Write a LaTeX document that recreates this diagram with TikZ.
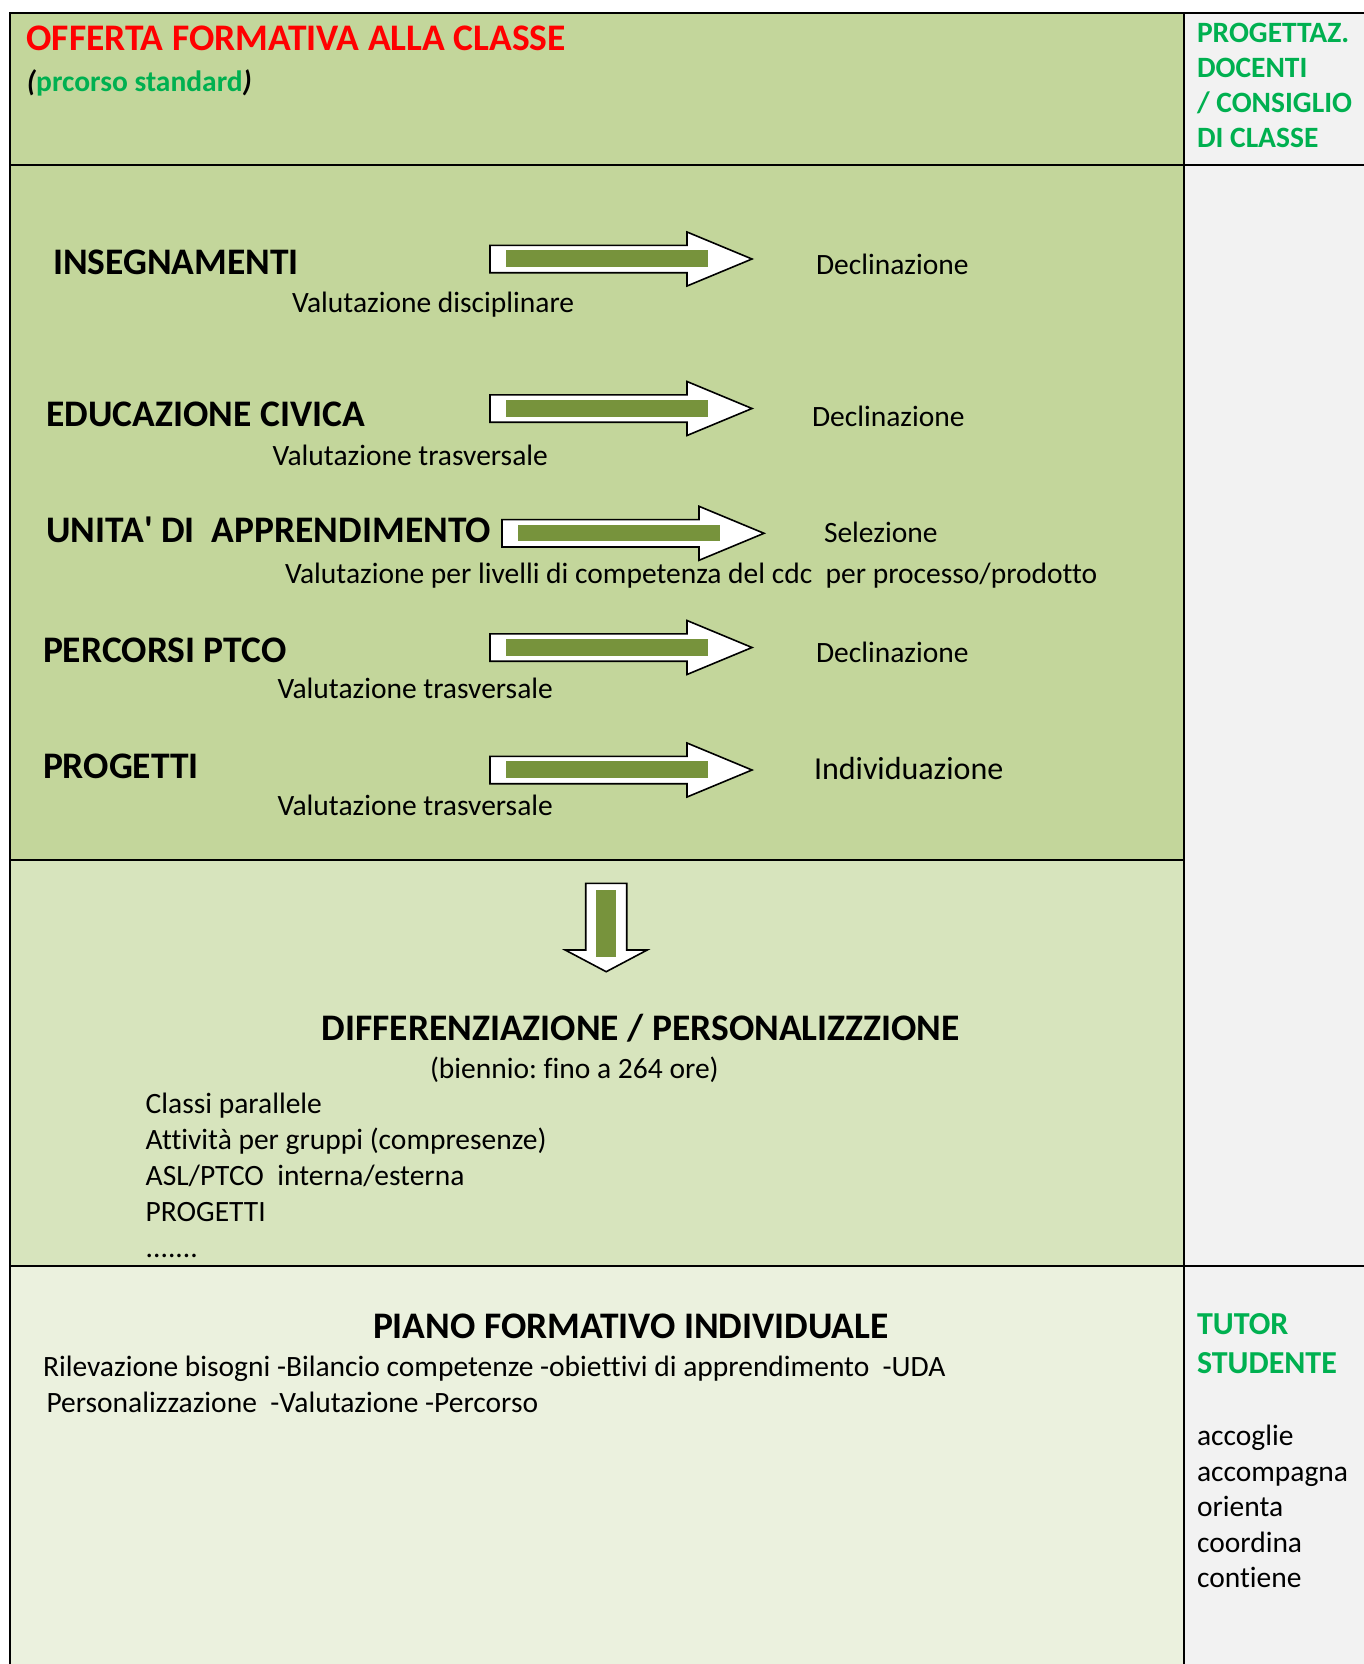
\documentclass[tikz,border=0pt]{standalone}
\usepackage{fontspec}
\setmainfont{Carlito}[Ligatures={TeX,NoCommon}]
\frenchspacing
\definecolor{bgone}{HTML}{C3D69B}
\definecolor{bgtwo}{HTML}{D7E4BD}
\definecolor{bgthree}{HTML}{EBF1DE}
\definecolor{bggray}{HTML}{F2F2F2}
\definecolor{tgreen}{HTML}{00B050}
\definecolor{tred}{HTML}{FF0000}
\definecolor{bargreen}{HTML}{77933C}
\newcommand\sizeS{\fontsize{29.5}{36}\selectfont}
\newcommand\sizeM{\fontsize{32}{39}\selectfont}
\newcommand\sizeL{\fontsize{37.5}{45}\selectfont}
\tikzset{
  txt/.style={anchor=base west,inner sep=0pt,outer sep=0pt,font=\sizeS},
  hd/.style={txt,font=\sizeL\bfseries},
  dec/.style={txt,font=\sizeS},
  decm/.style={txt,font=\sizeM},
  grn/.style={txt,font=\sizeS\bfseries,text=tgreen},
  grnm/.style={txt,font=\sizeM\bfseries,text=tgreen},
  rule/.style={line width=2pt,black},
  arrowbody/.style={draw=black,fill=white,line width=1.6pt,line join=miter},
  rarrow/.pic={
    \draw[arrowbody] (0,-13.7) -- (197,-13.7) -- (197,-27) -- (262,0) -- (197,27) -- (197,13.7) -- (0,13.7) -- cycle;
    \fill[bargreen] (16,-8.7) rectangle (218,8);
  },
  darrow/.pic={
    \draw[arrowbody] (-20.5,0) -- (20.5,0) -- (20.5,66.7) -- (41,66.7) -- (0,88.4) -- (-41,66.7) -- (-20.5,66.7) -- cycle;
    \fill[bargreen] (-10.2,6.7) rectangle (10.2,73.7);
  }
}
\begin{document}
\begin{tikzpicture}[x=1pt,y=-1pt]
\fill[white] (0,0) rectangle (1364,1664);
\useasboundingbox (0,0) rectangle (1364,1664);
% backgrounds
\fill[bgone] (10,13) rectangle (1183.7,860);
\fill[bgtwo] (10,860) rectangle (1183.7,1266);
\fill[bgthree] (10,1266) rectangle (1183.7,1664);
\fill[bggray] (1183.7,13) rectangle (1364,1664);
% rules
\draw[rule] (1364,13) -- (10,13) -- (10,1664);
\draw[rule] (1183.7,13) -- (1183.7,1664);
\draw[rule] (10,165) -- (1364,165);
\draw[rule] (10,860) -- (1183.7,860);
\draw[rule] (10,1266) -- (1364,1266);
% header
\node[hd,text=tred] (title) at (26.5,51) {OFFERTA FORMATIVA ALLA CLASSE};
\node[txt,font=\sizeS\bfseries] (sub) at (27,91.5) {\itshape(\upshape\textcolor{tgreen}{prcorso standard}\itshape)};
\node[grn] (pg1) at (1197,42.5) {PROGETTAZ.};
\node[grn] (pg2) at (1197,77.5) {DOCENTI};
\node[grn] (pg3) at (1197,112.5) {/ CONSIGLIO};
\node[grn] (pg4) at (1197,147.5) {DI CLASSE};
% rows
\node[hd] (ins) at (53,274) {INSEGNAMENTI};
\pic at (490,259) {rarrow};
\node[dec] (dec1) at (816,274) {Declinazione};
\node[txt] (val1) at (292,312.5) {Valutazione disciplinare};

\node[hd] (edu) at (46.5,426.5) {EDUCAZIONE CIVICA};
\pic at (490,408.5) {rarrow};
\node[dec] (dec2) at (812,426.5) {Declinazione};
\node[txt] (val2) at (272.5,465) {Valutazione trasversale};

\node[hd] (uda) at (46.5,542) {UNITA\textquotesingle{} DI\ \ APPRENDIMENTO};
\pic at (502,533.3) {rarrow};
\node[dec] (sel) at (824,542) {Selezione};
\node[txt] (val3) at (285,583) {Valutazione per livelli di competenza del cdc\ \ per processo/prodotto};

\node[hd] (ptco) at (43,662) {PERCORSI PTCO};
\pic at (490,647.5) {rarrow};
\node[dec] (dec3) at (816,662) {Declinazione};
\node[txt] (val4) at (277.5,698.5) {Valutazione trasversale};

\node[hd] (prog) at (43,778.5) {PROGETTI};
\pic at (490,770) {rarrow};
\node[decm] (ind) at (814,779) {Individuazione};
\node[txt] (val5) at (277.5,815.5) {Valutazione trasversale};
% differenziazione
\pic at (606.2,883.3) {darrow};
\node[hd] (diff) at (321.8,1040.5) {DIFFERENZIAZIONE / PERSONALIZZZIONE};
\node[txt] (bien) at (430,1078.5) {(biennio: fino a 264 ore)};
\node[txt] (l1) at (145.7,1113.5) {Classi parallele};
\node[txt] (l2) at (145.7,1149.5) {Attività per gruppi (compresenze)};
\node[txt] (l3) at (145.7,1185.5) {ASL/PTCO\ \ interna/esterna};
\node[txt] (l4) at (145.7,1221.5) {PROGETTI};
\node[txt] (l5) at (145.7,1257.5) {.......};
% piano
\node[hd] (piano) at (373,1338) {PIANO FORMATIVO INDIVIDUALE};
\node[txt] (pf1) at (43,1376.5) {Rilevazione bisogni -Bilancio competenze -obiettivi di apprendimento\ \ -UDA};
\node[txt] (pf2) at (46.5,1412.5) {Personalizzazione\ \ -Valutazione -Percorso};
% tutor
\node[grnm] (tut1) at (1197,1334.5) {TUTOR};
\node[grnm] (tut2) at (1197,1373) {STUDENTE};
\node[txt] (v1) at (1197,1445) {accoglie};
\node[txt] (v2) at (1197,1481) {accompagna};
\node[txt] (v3) at (1197,1516.5) {orienta};
\node[txt] (v4) at (1197,1552) {coordina};
\node[txt] (v5) at (1197,1587.7) {contiene};
\end{tikzpicture}
\end{document}
